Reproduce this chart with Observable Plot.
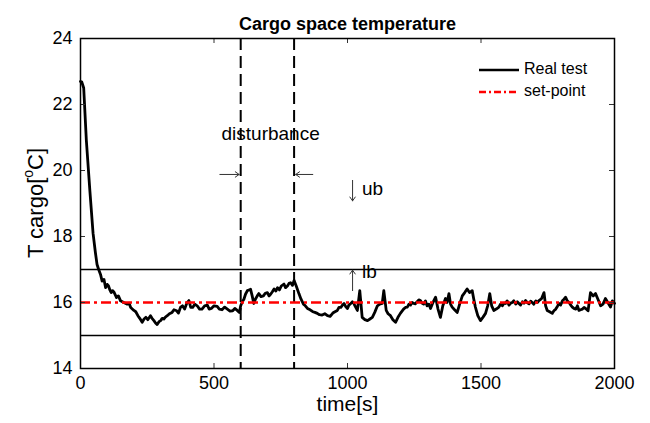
<!DOCTYPE html>
<html>
<head>
<meta charset="utf-8">
<script src="https://cdn.jsdelivr.net/npm/d3@7"></script>
<script src="https://cdn.jsdelivr.net/npm/@observablehq/plot@0.6"></script>
<style>
  html, body { margin: 0; padding: 0; background: #fff; }
  #wrap { position: relative; width: 650px; height: 423px; font-family: "Liberation Sans", Arial, Helvetica, sans-serif; }
  #legend { position: absolute; left: 478px; top: 58px; }
</style>
</head>
<body>
<div id="wrap"></div>
<script>
// time [s]
const time = [0,5,12,22,35,47,56,62,68,75,81,88,94,100,105,110,115,120,125,135,142,150,162,175,182,188,200,207,215,222,231,238,245,252,262,268,275,281,287,294,300,306,312,318,325,333,343,350,360,367,375,382,390,398,406,413,420,428,437,446,455,465,475,482,490,500,512,520,530,540,550,560,570,578,587,595,600,606,612,618,625,631,637,643,649,655,662,668,676,685,692,700,706,712,718,725,732,738,745,752,762,768,775,781,787,794,800,808,818,826,835,842,850,860,870,878,887,895,905,915,925,935,945,953,962,968,975,981,987,993,1000,1005,1010,1018,1023,1028,1037,1046,1055,1065,1075,1084,1093,1102,1112,1121,1130,1136,1145,1152,1161,1170,1180,1189,1198,1210,1217,1224,1230,1236,1242,1248,1254,1260,1267,1273,1279,1285,1292,1298,1305,1311,1320,1330,1339,1348,1357,1367,1373,1380,1386,1392,1401,1411,1420,1430,1439,1448,1457,1467,1473,1479,1488,1498,1507,1517,1525,1533,1540,1548,1557,1567,1573,1580,1586,1592,1598,1605,1611,1617,1623,1630,1636,1642,1648,1655,1661,1667,1673,1680,1686,1692,1698,1705,1711,1717,1727,1736,1742,1748,1757,1767,1773,1780,1786,1792,1798,1805,1811,1817,1823,1830,1836,1842,1848,1855,1861,1867,1873,1880,1886,1892,1901,1910,1920,1929,1938,1948,1957,1966,1975,1985,1992,2000];
// cargo temperature [°C], real test
const tcargo = [22.7,22.68,22.5,20.9,19.4,18.1,17.5,17.15,17.0,16.85,16.65,16.7,16.45,16.55,16.5,16.38,16.3,16.36,16.32,16.15,16.2,16.05,16.0,15.95,15.98,15.85,15.76,15.72,15.6,15.52,15.4,15.5,15.55,15.48,15.6,15.52,15.45,15.38,15.33,15.42,15.45,15.52,15.5,15.56,15.6,15.66,15.7,15.78,15.75,15.68,15.86,15.9,15.8,15.98,16.06,15.85,15.85,15.95,15.9,15.8,15.8,15.9,15.92,15.8,15.82,15.9,15.88,15.8,15.78,15.86,15.8,15.74,15.75,15.82,15.76,15.7,15.9,16.02,16.1,16.25,16.36,16.38,16.4,16.2,15.97,16.1,16.2,16.27,16.18,16.2,16.28,16.3,16.2,16.25,16.32,16.41,16.35,16.45,16.38,16.5,16.56,16.45,16.5,16.58,16.6,16.52,16.67,16.5,16.27,16.1,15.95,15.9,15.82,15.78,15.72,15.7,15.67,15.63,15.62,15.66,15.6,15.58,15.68,15.72,15.76,15.85,15.85,15.92,15.97,15.88,15.82,15.92,15.95,16.02,15.98,15.9,15.76,16.36,15.55,15.48,15.45,15.5,15.55,15.7,15.9,15.95,15.97,16.36,15.76,15.66,15.6,15.48,15.4,15.55,15.67,15.8,15.85,15.86,15.95,15.92,16.0,15.97,15.96,16.02,16.08,16.06,15.98,15.95,16.05,15.9,15.95,15.82,16.0,16.16,15.8,15.55,15.9,16.12,16.0,16.27,15.95,15.86,15.78,15.7,15.95,16.2,16.3,16.41,16.3,16.36,16.1,15.86,15.6,15.45,15.55,15.67,15.9,16.27,15.9,15.76,15.8,15.86,15.95,15.9,15.98,15.97,16.05,15.92,15.98,16.0,16.05,15.95,16.02,15.97,15.92,16.02,15.98,16.06,16.0,15.96,16.04,16.0,15.95,16.05,16.0,16.06,16.12,16.3,15.9,15.76,15.72,15.67,15.75,15.8,15.88,15.97,15.92,16.05,16.1,16.16,16.05,16.0,15.92,15.86,15.82,15.8,15.9,15.76,15.78,15.8,15.85,15.82,15.75,16.3,16.2,16.27,16.1,15.9,15.95,16.12,16.0,15.86,16.05,15.97];

const setPoint = 16;
const upperBound = 17;
const lowerBound = 15;
const disturbance = [600, 800];
const xTicks = [0, 500, 1000, 1500, 2000];
const yTicks = [14, 16, 18, 20, 22, 24];
const xDomain = [0, 2000];
const yDomain = [14, 24];

// text annotations
const centeredLabels = [
  {t: 712, T: 21.1, label: "disturbance"}
];
const boundLabels = [
  {t: 1054, T: 19.45, label: "ub"},
  {t: 1054, T: 16.92, label: "lb"}
];
// arrow annotations (tail -> head)
const arrows = [
  {t1: 522, T1: 19.88, t2: 594, T2: 19.88},
  {t1: 870, T1: 19.88, t2: 806, T2: 19.88},
  {t1: 1019, T1: 19.7, t2: 1019, T2: 19.08},
  {t1: 1019, T1: 16.36, t2: 1019, T2: 16.98}
];

const series = time.map((t, i) => ({t, T: tcargo[i]}));
const font = "Liberation Sans, Arial, Helvetica, sans-serif";

const tickLenX = 5 / 534 * (xDomain[1] - xDomain[0]);
const tickLenY = 5 / 330 * (yDomain[1] - yDomain[0]);

const chart = Plot.plot({
  width: 650,
  height: 423,
  marginLeft: 80,
  marginRight: 36,
  marginTop: 38,
  marginBottom: 55,
  style: {fontFamily: font, background: "white", overflow: "visible"},
  x: {domain: xDomain, axis: null},
  y: {domain: yDomain, axis: null},
  marks: [
    Plot.ruleY([upperBound, lowerBound], {stroke: "black", strokeWidth: 1.5}),
    Plot.ruleX(disturbance, {stroke: "black", strokeWidth: 2, strokeDasharray: "12 6"}),
    Plot.line(series, {x: "t", y: "T", stroke: "black", strokeWidth: 2.8, strokeLinejoin: "round"}),
    Plot.ruleY([setPoint], {stroke: "#ff0000", strokeWidth: 2.5, strokeDasharray: "10 4 3 4"}),
    // inward ticks
    Plot.ruleX(xTicks, {y1: yDomain[0], y2: yDomain[0] + tickLenY, stroke: "#333", strokeWidth: 1}),
    Plot.ruleX(xTicks, {y1: yDomain[1], y2: yDomain[1] - tickLenY, stroke: "#333", strokeWidth: 1}),
    Plot.ruleY(yTicks, {x1: xDomain[0], x2: xDomain[0] + tickLenX, stroke: "#333", strokeWidth: 1}),
    Plot.ruleY(yTicks, {x1: xDomain[1], x2: xDomain[1] - tickLenX, stroke: "#333", strokeWidth: 1}),
    Plot.frame({stroke: "black", strokeWidth: 1.5}),
    Plot.text(xTicks, {x: d => d, y: yDomain[0], text: d => String(d), dy: 15, fontSize: 18, fill: "black", textAnchor: "middle"}),
    Plot.text(yTicks, {x: xDomain[0], y: d => d, text: d => String(d), dx: -8, fontSize: 18, fill: "black", textAnchor: "end"}),
    Plot.text(centeredLabels, {x: "t", y: "T", text: "label", textAnchor: "middle", fontSize: 19, fill: "black"}),
    Plot.text(boundLabels, {x: "t", y: "T", text: "label", textAnchor: "start", fontSize: 19, fill: "black"}),
    Plot.arrow(arrows, {x1: "t1", y1: "T1", x2: "t2", y2: "T2", stroke: "#333", strokeWidth: 1, headLength: 7, headAngle: 70}),
    Plot.text(["Cargo space temperature"], {frameAnchor: "top", dy: -21, fontSize: 18, fontWeight: "bold", fill: "black"}),
    Plot.text(["time[s]"], {frameAnchor: "bottom", dy: 42, fontSize: 21, fill: "black"})
  ]
});

const wrap = document.getElementById("wrap");
wrap.appendChild(chart);

// y-axis label with superscript
const svg = d3.select(chart);
const yl = svg.append("text")
  .attr("transform", "translate(37,203) rotate(-90)")
  .attr("text-anchor", "middle")
  .attr("font-family", font)
  .attr("font-size", 22)
  .attr("fill", "black")
  .attr("dominant-baseline", "middle");
yl.append("tspan").text("T cargo[");
yl.append("tspan").attr("font-size", 14).attr("dy", -8).text("o");
yl.append("tspan").attr("dy", 8).text("C]");

// legend
const legendItems = [
  {label: "Real test", color: "black", dash: null, width: 2.5},
  {label: "set-point", color: "#ff0000", dash: "7 3 2 3", width: 2.5}
];
const lg = d3.select(wrap).append("svg").attr("id", "legend").attr("width", 140).attr("height", 48);
legendItems.forEach((d, i) => {
  const y = 12 + i * 22;
  lg.append("line").attr("x1", 1).attr("x2", 41).attr("y1", y).attr("y2", y)
    .attr("stroke", d.color).attr("stroke-width", d.width).attr("stroke-dasharray", d.dash);
  lg.append("text").attr("x", 46).attr("y", y).attr("dominant-baseline", "middle")
    .attr("font-family", font).attr("font-size", 16).attr("fill", "black").text(d.label);
});
</script>
</body>
</html>
